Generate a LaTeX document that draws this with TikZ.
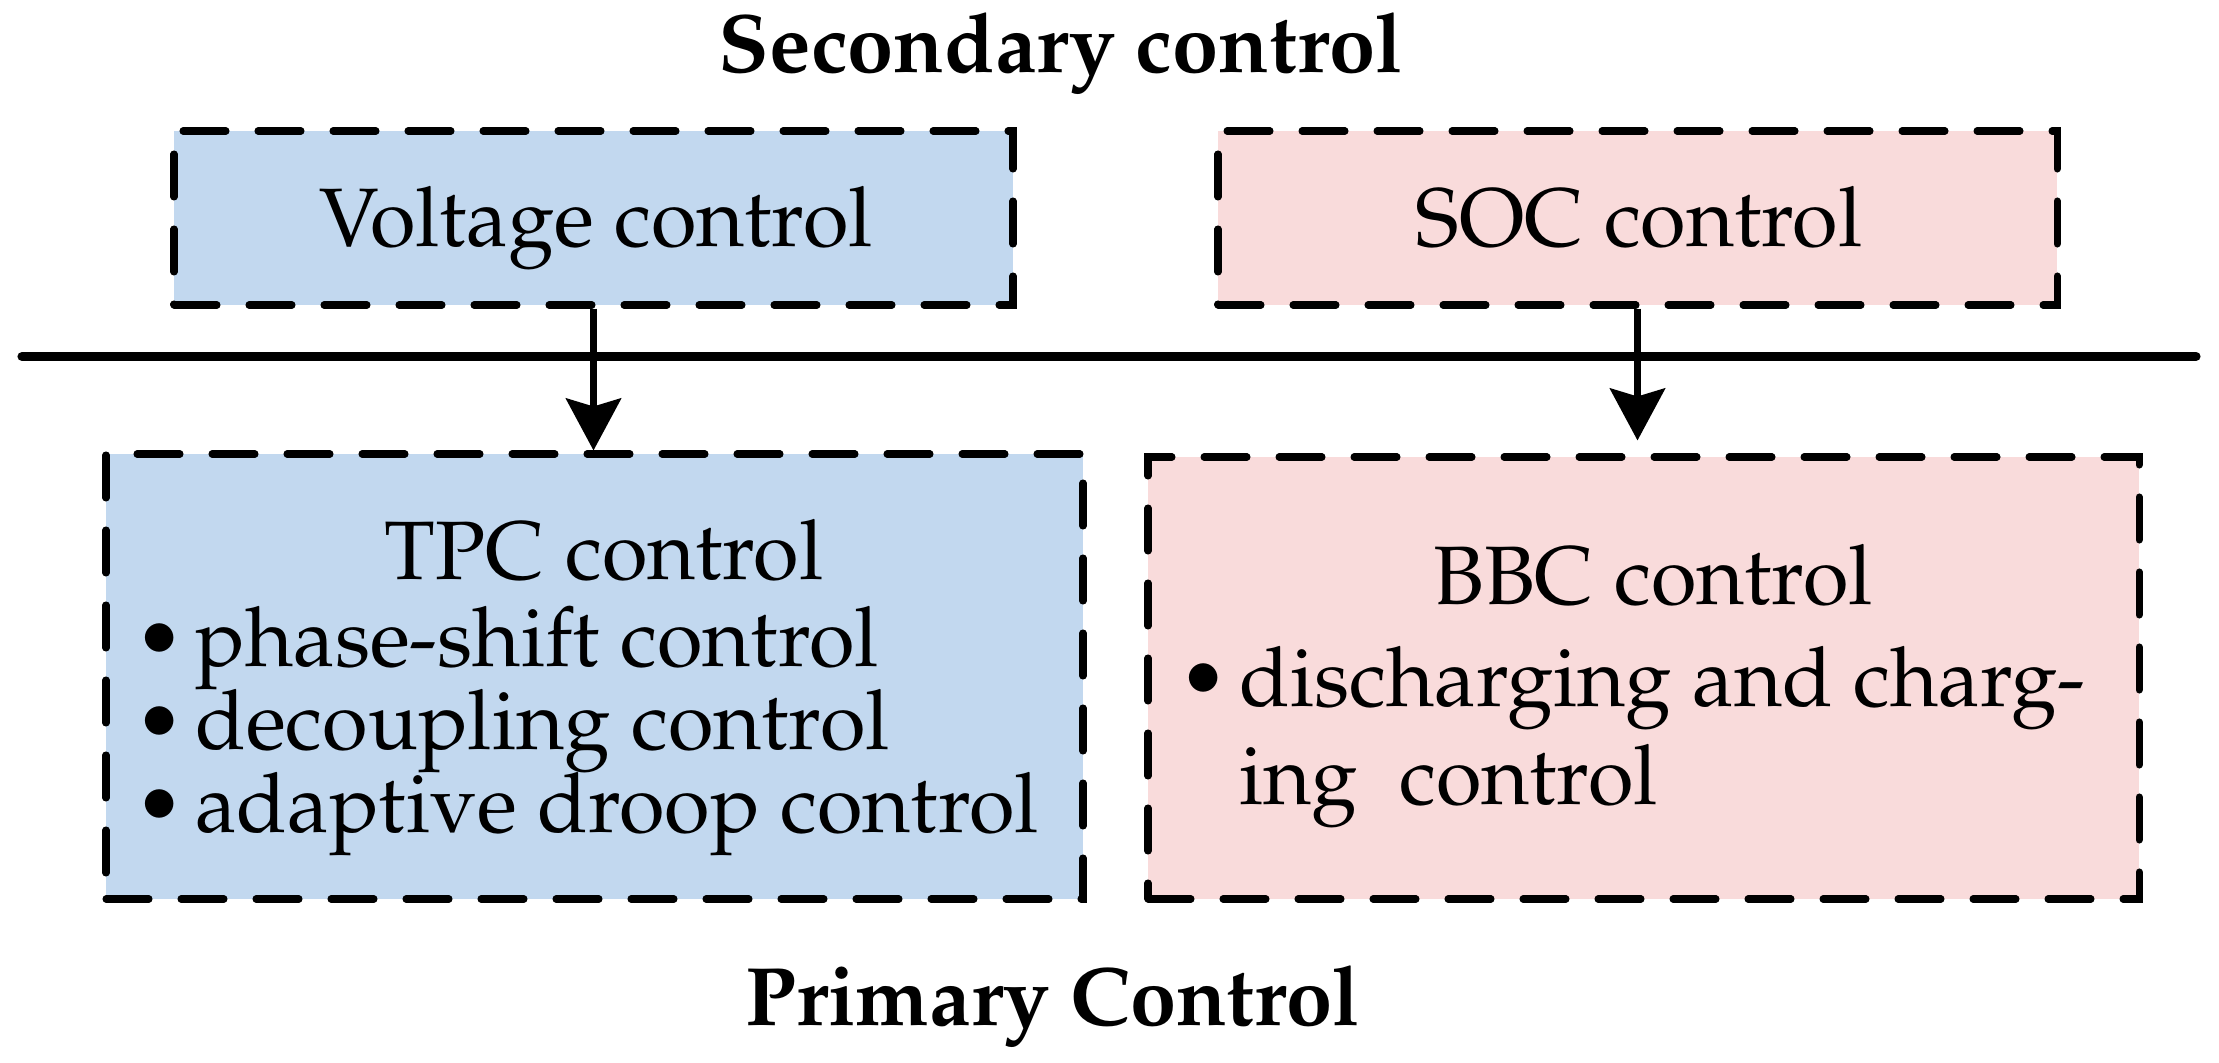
\documentclass[tikz,border=0pt]{standalone}
\usepackage[T1]{fontenc}
\usepackage{mathpazo}
\usepackage{xcolor}
\usetikzlibrary{arrows.meta}
\definecolor{volfill}{HTML}{C2D8EF}
\definecolor{socfill}{HTML}{F9DBDB}
\tikzset{
  box/.style={draw=black, line width=2pt, dash pattern=on 0.43cm off 0.32cm, line cap=round, inner sep=0pt},
  bus/.style={draw=black, line width=2.6pt, line cap=round},
  flow/.style={draw=black, line width=2pt, -{Stealth[length=0.52cm,width=0.55cm,inset=0.08cm]}},
  lab/.style={font=\fontsize{23.6}{23.6}\selectfont, inner sep=0pt},
  head/.style={lab, font=\fontsize{23.6}{23.6}\selectfont\bfseries}
}
\newcommand{\itm}{\textbullet\kern3pt}

\begin{document}
\begin{tikzpicture}[y=-1cm]
  \useasboundingbox (0,0) rectangle (22.19,10.63);
  % boxes
  \node[box, fill=volfill, minimum width=8.39cm, minimum height=1.74cm] (volt) at (5.935,2.18) {};
  \node[box, fill=socfill, minimum width=8.39cm, minimum height=1.74cm] (soc) at (16.375,2.18) {};
  \node[box, fill=volfill, minimum width=9.77cm, minimum height=4.45cm] (tpc) at (5.945,6.765) {};
  \node[box, fill=socfill, minimum width=9.91cm, minimum height=4.42cm] (bbc) at (16.435,6.78) {};
  % bus
  \coordinate (busL) at (0.22,3.565);
  \coordinate (busR) at (21.96,3.565);
  \draw[bus] (busL) -- (busR);
  \draw[flow] (volt.south) -- (volt.south |- tpc.north);
  \draw[flow, shorten >=0.13cm] (soc.south) -- (soc.south |- bbc.north);
  % labels
  \node[head, anchor=base] (sec) at (10.61,0.73) {Secondary control};
  \node[head, anchor=base] (pri) at (10.53,10.26) {Primary Control};
  \node[lab, anchor=base] (voltT) at (5.96,2.47) {Voltage control};
  \node[lab, anchor=base] (socT) at (16.39,2.47) {SOC control};
  \node[lab, anchor=base] (tpcT) at (6.04,5.80) {TPC control};
  \foreach \txt [count=\i] in {phase-shift control, decoupling control, adaptive droop control}
    \node[lab, anchor=base west] (tpc\i) at (1.34,5.84+0.83*\i) {\itm\txt};
  \node[lab, anchor=base] (bbcT) at (16.53,6.05) {BBC control};
  \node[lab, anchor=base west] (bbc1) at (11.78,7.07) {\itm discharging and charg-};
  \node[lab, anchor=base west] (bbc2) at (11.78,8.05) {\phantom{\itm}ing\ \ control};
\end{tikzpicture}
\end{document}
